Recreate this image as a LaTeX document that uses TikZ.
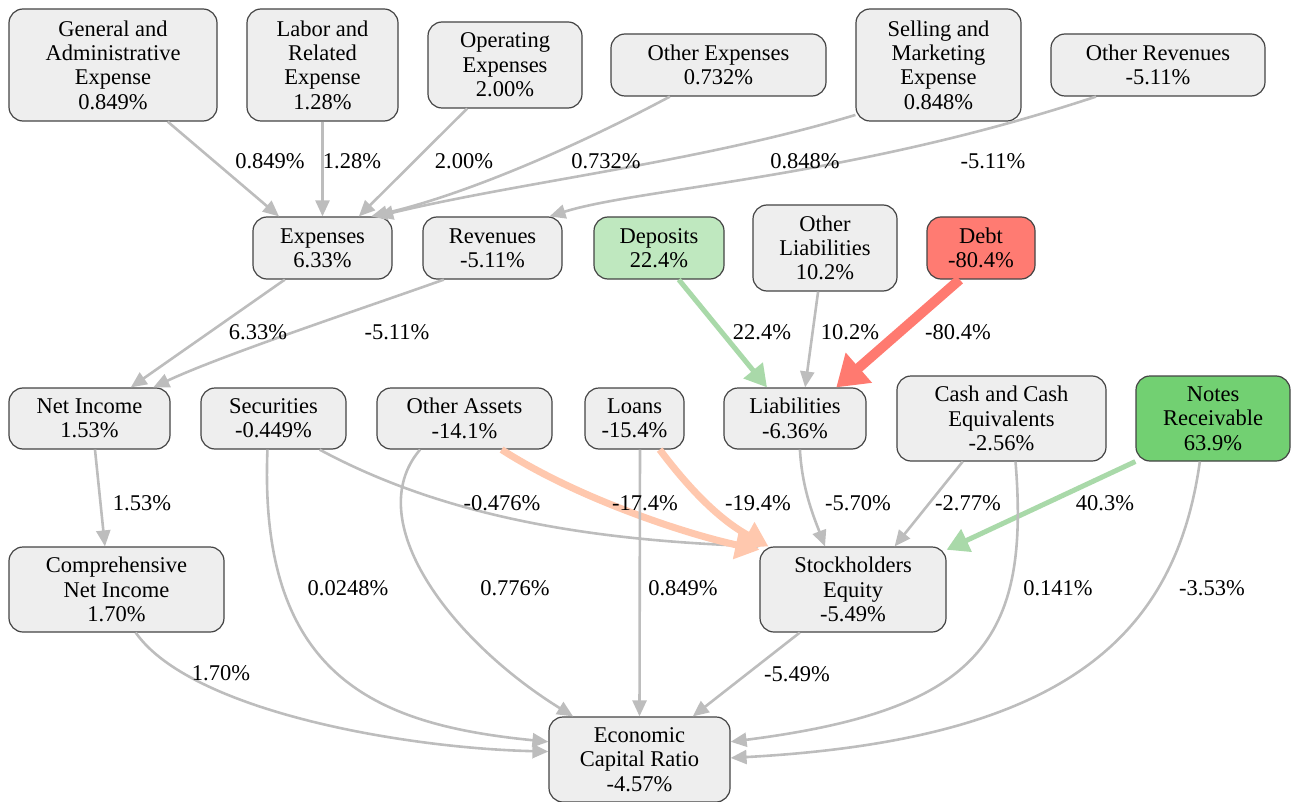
\documentclass[tikz,border=0pt]{standalone}
\usepackage{fontspec}
\setmainfont{Liberation Serif}
\usetikzlibrary{arrows.meta}

\definecolor{boxfill}{HTML}{EEEEEE}
\definecolor{boxline}{HTML}{444444}
\definecolor{edgegray}{HTML}{BDBDBD}
\definecolor{greenedge}{HTML}{A9D9A9}
\definecolor{orangeedge}{HTML}{FFC8AE}
\definecolor{rededge}{HTML}{FF7A70}
\definecolor{lightgreen}{HTML}{BFE8BF}
\definecolor{midgreen}{HTML}{72D072}
\definecolor{debtred}{HTML}{FF7B72}

\tikzset{
  box/.style={draw=boxline, fill=boxfill, line width=1.2pt, rounded corners=14pt,
    align=center, inner sep=2pt},
  edge/.style={draw=edgegray, line width=2.6pt, -{Triangle[length=16pt,width=14pt]}},
  greenflow/.style={edge, draw=greenedge, line width=5pt, -{Triangle[length=22pt,width=24pt]}},
  orangeflow/.style={edge, draw=orangeedge, line width=7pt, -{Triangle[length=24pt,width=28pt]}},
  redflow/.style={edge, draw=rededge, line width=10pt, -{Triangle[length=30pt,width=38pt]}},
  lbl/.style={inner sep=0pt}
}

\begin{document}
\begin{tikzpicture}[x=1pt, y=-1pt, font=\fontsize{22.5}{24.3}\selectfont]
  \useasboundingbox (0,0) rectangle (1292,802);

  % top row
  \node[box, minimum width=208pt, minimum height=112pt] (genadm) at (113,65) {General and\\Administrative\\Expense\\0.849\%};
  \node[box, minimum width=151pt, minimum height=112pt] (labor) at (322.5,65) {Labor and\\Related\\Expense\\1.28\%};
  \node[box, minimum width=154pt, minimum height=86pt] (opex) at (505,65) {Operating\\Expenses\\2.00\%};
  \node[box, minimum width=215pt, minimum height=62pt] (othexp) at (718.5,65) {Other Expenses\\0.732\%};
  \node[box, minimum width=165pt, minimum height=112pt] (selling) at (938.5,65) {Selling and\\Marketing\\Expense\\0.848\%};
  \node[box, minimum width=214pt, minimum height=62pt] (othrev) at (1158,65) {Other Revenues\\-5.11\%};

  % second row
  \node[box, minimum width=139pt, minimum height=62pt] (expn) at (322.5,248) {Expenses\\6.33\%};
  \node[box, minimum width=139pt, minimum height=62pt] (revn) at (492.5,248) {Revenues\\-5.11\%};
  \node[box, fill=lightgreen, minimum width=130pt, minimum height=62pt] (deposits) at (659,248) {Deposits\\22.4\%};
  \node[box, minimum width=144pt, minimum height=86pt] (othliab) at (825,248) {Other\\Liabilities\\10.2\%};
  \node[box, fill=debtred, minimum width=108pt, minimum height=62pt] (debt) at (981,248) {Debt\\-80.4\%};

  % third row
  \node[box, minimum width=161pt, minimum height=61pt] (netinc) at (89.5,418.5) {Net Income\\1.53\%};
  \node[box, minimum width=145pt, minimum height=61pt] (secur) at (273.5,418.5) {Securities\\-0.449\%};
  \node[box, minimum width=175pt, minimum height=61pt] (othass) at (464.5,418.5) {Other Assets\\-14.1\%};
  \node[box, minimum width=99pt, minimum height=61pt] (loans) at (634.5,418.5) {Loans\\-15.4\%};
  \node[box, minimum width=142pt, minimum height=61pt] (liab) at (795,418.5) {Liabilities\\-6.36\%};
  \node[box, minimum width=209pt, minimum height=85pt] (cash) at (1001.5,418.5) {Cash and Cash\\Equivalents\\-2.56\%};
  \node[box, fill=midgreen, minimum width=154pt, minimum height=85pt] (notes) at (1213,418.5) {Notes\\Receivable\\63.9\%};

  % lower rows
  \node[box, minimum width=215pt, minimum height=85pt] (compinc) at (116.5,589.5) {Comprehensive\\Net Income\\1.70\%};
  \node[box, minimum width=186pt, minimum height=85pt] (stock) at (853,589.5) {Stockholders\\Equity\\-5.49\%};
  \node[box, minimum width=181pt, minimum height=85pt] (ecr) at (639.5,759.5) {Economic\\Capital Ratio\\-4.57\%};

  % connectors
  \draw[edge] (genadm.-46) -- (expn.144);
  \draw[edge] (labor) -- (expn);
  \draw[edge] (opex.-131.5) -- (expn.41);
  \draw[edge] (othexp.-147.6) .. controls (570,150) and (460,196) .. (expn.33);
  \draw[edge] (selling.-149.4) .. controls (700,162) and (520,182) .. (expn.30);
  \draw[edge] (othrev.-153.4) .. controls (850,178) and (640,188) .. (revn.29.6);

  \draw[edge] (expn.-140.4) -- (netinc.37);
  \draw[edge] (revn.-147) .. controls (370,306) and (222,355) .. (netinc.26);
  \draw[greenflow] (deposits.-58.5) -- (liab.132);
  \draw[edge] (othliab.-99) -- (liab.72);
  \draw[redflow] (debt.-124.9) -- (liab.37);

  \draw[edge] (netinc.-80) -- (compinc.105);
  \draw[edge] (secur.-34.7) .. controls (450,520) and (600,540) .. (stock.155.8);
  \draw[orangeflow] (othass.-40) .. controls (580,500) and (690,535) .. (stock.157.5);
  \draw[orangeflow] (loans.-51) .. controls (690,490) and (720,520) .. (stock.153);
  \draw[edge] (liab.-81) .. controls (802,490) and (815,520) .. (stock.123.4);
  \draw[edge] (cash.-132.9) -- (stock.46.7);
  \draw[greenflow] (notes.-151) -- (stock.23);

  \draw[edge] (compinc.-66) .. controls (190,710) and (400,748) .. (ecr.175);
  \draw[edge] (secur.-101.7) .. controls (258,680) and (380,725) .. (ecr.169);
  \draw[edge] (othass.-145) .. controls (360,520) and (450,640) .. (ecr.147.4);
  \draw[edge] (loans.-80) -- (ecr.north);
  \draw[edge] (stock.-141.3) -- (ecr.39);
  \draw[edge] (cash.-72.4) .. controls (1030,640) and (980,710) .. (ecr.11);
  \draw[edge] (notes.-107) .. controls (1175,640) and (1060,740) .. (ecr.1.6);

  % edge values
  \node[lbl] (v-genadm) at (270,161) {0.849\%};
  \node[lbl] (v-labor) at (352,161) {1.28\%};
  \node[lbl] (v-opex) at (464,161) {2.00\%};
  \node[lbl] (v-othexp) at (606,161) {0.732\%};
  \node[lbl] (v-selling) at (805,161) {0.848\%};
  \node[lbl] (v-othrev) at (993,161) {-5.11\%};
  \node[lbl] (v-expn) at (258,332) {6.33\%};
  \node[lbl] (v-revn) at (397,332) {-5.11\%};
  \node[lbl] (v-deposits) at (762,332) {22.4\%};
  \node[lbl] (v-othliab) at (850,332) {10.2\%};
  \node[lbl] (v-debt) at (958,332) {-80.4\%};
  \node[lbl] (v-netinc) at (142,503) {1.53\%};
  \node[lbl] (v-secstock) at (502,503) {-0.476\%};
  \node[lbl] (v-assstock) at (645,503) {-17.4\%};
  \node[lbl] (v-loanstock) at (758,503) {-19.4\%};
  \node[lbl] (v-liab) at (858,503) {-5.70\%};
  \node[lbl] (v-cashstock) at (968,503) {-2.77\%};
  \node[lbl] (v-notestock) at (1105,503) {40.3\%};
  \node[lbl] (v-sececr) at (348,588) {0.0248\%};
  \node[lbl] (v-assecr) at (515,588) {0.776\%};
  \node[lbl] (v-loanecr) at (683,588) {0.849\%};
  \node[lbl] (v-cashecr) at (1058,588) {0.141\%};
  \node[lbl] (v-noteecr) at (1212,588) {-3.53\%};
  \node[lbl] (v-compinc) at (221,673) {1.70\%};
  \node[lbl] (v-stock) at (797,674) {-5.49\%};
\end{tikzpicture}
\end{document}
